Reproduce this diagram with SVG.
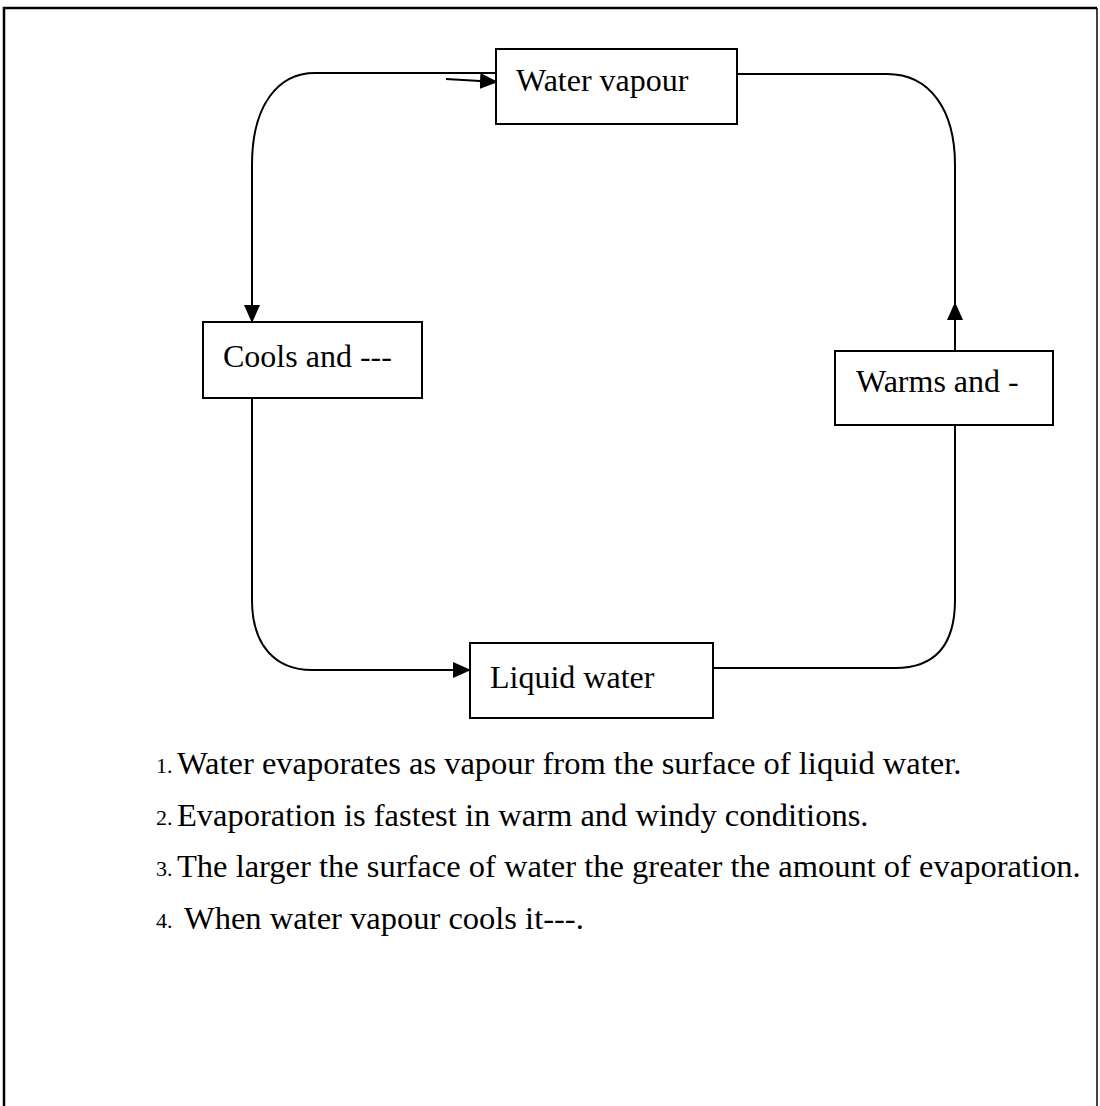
<svg xmlns="http://www.w3.org/2000/svg" width="1100" height="1106" viewBox="0 0 1100 1106">
<style>
.box{fill:#fff;stroke:#000;stroke-width:2}
.lbl{font-family:"Liberation Serif","Times New Roman",serif;font-size:32px;fill:#000}
.item{font-family:"Liberation Serif","Times New Roman",serif;font-size:32.5px;fill:#000}
.num{font-family:"Liberation Serif","Times New Roman",serif;font-size:22px;fill:#000}
.conn{fill:none;stroke:#000;stroke-width:2}
</style>
<defs>
<marker id="ah" markerWidth="18" markerHeight="16" refX="17" refY="8" orient="auto" markerUnits="userSpaceOnUse">
<path d="M0,0 L18,8 L0,16 Z" fill="#000"/>
</marker>
</defs>
<rect width="1100" height="1106" fill="#fff"/>
<g id="frame" fill="none" stroke="#000">
<path d="M4,1106 V8 H1097" stroke-width="2.5"/>
<path d="M1097,8 V1106" stroke-width="1.5"/>
</g>
<g id="connectors">
<path class="conn" d="M497,73 H315 C278,73 252,105 252,165 V322" marker-end="url(#ah)"/>
<path class="conn" d="M446,79 L497,82" marker-end="url(#ah)"/>
<path class="conn" d="M252,398 V600 C252,645 275,670 312,670 H470" marker-end="url(#ah)"/>
<path class="conn" d="M713,668 H895 C935,668 955,645 955,600 V425"/>
<path class="conn" d="M955,351 V303" marker-end="url(#ah)"/>
<path class="conn" d="M955,303 V165 C955,110 930,74 887,74 H737"/>
</g>
<g id="node-water-vapour">
<rect class="box" x="496" y="49" width="241" height="75"/>
<text class="lbl" x="516" y="91">Water vapour</text>
</g>
<g id="node-cools">
<rect class="box" x="203" y="322" width="219" height="76"/>
<text class="lbl" x="223" y="367">Cools and ---</text>
</g>
<g id="node-warms">
<rect class="box" x="835" y="351" width="218" height="74"/>
<text class="lbl" x="856" y="392">Warms and -</text>
</g>
<g id="node-liquid-water">
<rect class="box" x="470" y="643" width="243" height="75"/>
<text class="lbl" x="490" y="688">Liquid water</text>
</g>
<g id="list">
<text class="num" x="156" y="773">1.</text>
<text class="item" x="177" y="774">Water evaporates as vapour from the surface of liquid water.</text>
<text class="num" x="156" y="825">2.</text>
<text class="item" x="177" y="826">Evaporation is fastest in warm and windy conditions.</text>
<text class="num" x="156" y="876">3.</text>
<text class="item" x="177" y="877">The larger the surface of water the greater the amount of evaporation.</text>
<text class="num" x="156" y="928">4.</text>
<text class="item" x="184" y="929">When water vapour cools it---.</text>
</g>
</svg>
